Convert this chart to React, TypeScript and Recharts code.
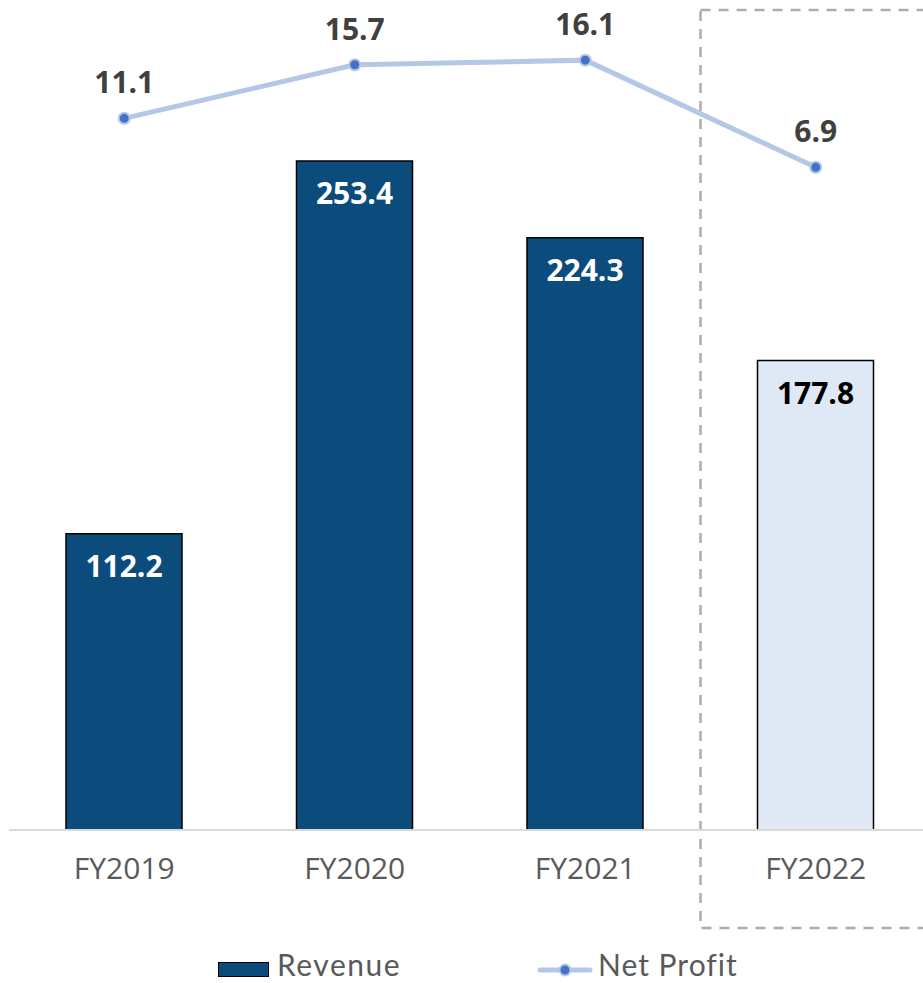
import React from 'react';
import { ComposedChart, Bar, Line, XAxis, YAxis, Cell, LabelList, ReferenceArea, Legend } from 'recharts';

const categories = ['FY2019', 'FY2020', 'FY2021', 'FY2022'];
const revenue = [112.2, 253.4, 224.3, 177.8];
const netProfit = [11.1, 15.7, 16.1, 6.9];
const highlightCategory = 'FY2022';
const seriesNames = { revenue: 'Revenue', netProfit: 'Net Profit' };

const data = categories.map((c, i) => ({ name: c, revenue: revenue[i], netProfit: netProfit[i] }));

const FONT = '"Open Sans", "Noto Sans", sans-serif';
const LEGEND_FONT = 'Lato, "Open Sans", sans-serif';
const DARK = '#0C4C7D';
const LIGHT = '#DEE9F5';
const LINE = '#B4C7E7';
const DOT = '#4472C4';

const BarLabel = (props: any) => {
  const { x, y, width, value } = props;
  const idx = revenue.indexOf(value);
  const light = categories[idx] === highlightCategory;
  return (
    <text x={x + width / 2} y={y + 22} dy="0.71em" textAnchor="middle" fontSize={30} fontWeight={700}
      fill={light ? '#000000' : '#FFFFFF'} fontFamily={FONT}>
      {Number(value).toFixed(1)}
    </text>
  );
};

const LineLabel = (props: any) => {
  const { x, y, value } = props;
  return (
    <text x={x} y={y - 25} textAnchor="middle" fontSize={30} fontWeight={700} fill="#404040" fontFamily={FONT}>
      {Number(value).toFixed(1)}
    </text>
  );
};

const HighlightBox = (props: any) => {
  const { x, y, width, height } = props;
  return (
    <rect x={x} y={y - 28} width={width} height={height + 126} fill="none" stroke="#AFABAB"
      strokeWidth={2.5} strokeDasharray="10 8" />
  );
};

const LegendContent = () => (
  <div style={{ position: 'relative', width: 923, height: 37, fontFamily: LEGEND_FONT, fontSize: 30, color: '#595959', lineHeight: '30px' }}>
    <span style={{ position: 'absolute', left: 218, top: 16, width: 49, height: 13, background: DARK, border: '1.5px solid #000' }} />
    <span style={{ position: 'absolute', left: 277, top: 3, whiteSpace: 'nowrap', letterSpacing: 1.5 }}>{seriesNames.revenue}</span>
    <svg width={56} height={16} style={{ position: 'absolute', left: 537, top: 16 }}>
      <line x1={3} y1={8} x2={53} y2={8} stroke={LINE} strokeWidth={5} strokeLinecap="round" />
      <circle cx={28} cy={8} r={5.5} fill={DOT} stroke={LINE} strokeWidth={2} />
    </svg>
    <span style={{ position: 'absolute', left: 598, top: 3, whiteSpace: 'nowrap', letterSpacing: 1 }}>{seriesNames.netProfit}</span>
  </div>
);

export default function App() {
  return (
    <div style={{ position: 'fixed', left: 0, top: 0, width: 923, height: 983, overflow: 'hidden', background: '#fff' }}>
      <ComposedChart width={931} height={983} data={data} margin={{ top: 38, right: 0, bottom: 93, left: 9 }}
        style={{ fontFamily: FONT }}>
        <XAxis dataKey="name" axisLine={{ stroke: '#D9D9D9', strokeWidth: 2 }} tickLine={false} height={60}
          tickMargin={22} tick={{ fill: '#595959', fontSize: 30, fontFamily: FONT }} interval={0} />
        <YAxis yAxisId="rev" hide domain={[0, 300]} />
        <YAxis yAxisId="np" hide domain={[-50, 18]} orientation="right" width={0} />
        <ReferenceArea yAxisId="rev" x1={highlightCategory} x2={highlightCategory} shape={HighlightBox} ifOverflow="visible" />
        <Bar yAxisId="rev" dataKey="revenue" name={seriesNames.revenue} barSize={116} stroke="#000" strokeWidth={1.5} isAnimationActive={false}>
          {data.map((d) => (
            <Cell key={d.name} fill={d.name === highlightCategory ? LIGHT : DARK} />
          ))}
          <LabelList dataKey="revenue" content={BarLabel} />
        </Bar>
        <Line yAxisId="np" dataKey="netProfit" name={seriesNames.netProfit} stroke={LINE} strokeWidth={5}
          dot={{ r: 5.5, fill: DOT, stroke: LINE, strokeWidth: 2 }} activeDot={false} isAnimationActive={false}>
          <LabelList dataKey="netProfit" content={LineLabel} />
        </Line>
        <Legend verticalAlign="middle" align="center" content={LegendContent}
          wrapperStyle={{ top: 946, left: 0, width: 923, height: 37 }} />
      </ComposedChart>
    </div>
  );
}
